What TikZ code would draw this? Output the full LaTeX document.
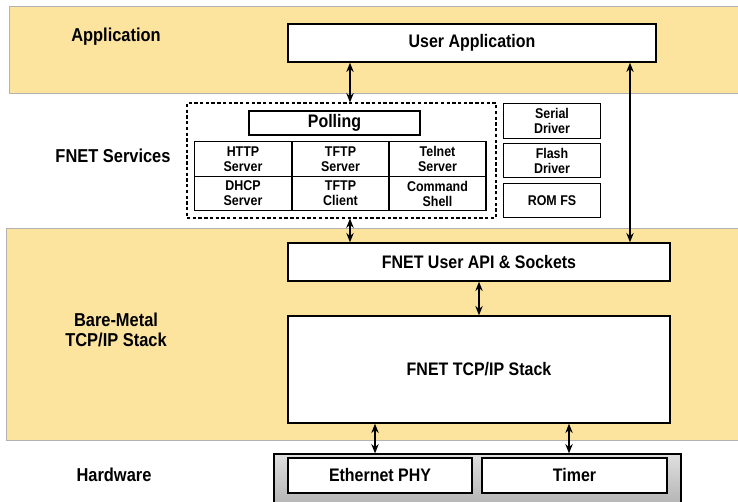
\documentclass[tikz,border=0pt]{standalone}
\usepackage{fontspec}
\setmainfont[FakeStretch=0.88]{Liberation Sans}
\usetikzlibrary{arrows.meta}
\definecolor{bandcol}{RGB}{253,228,158}

\tikzset{
  band/.style={fill=bandcol,draw=gray!60,line width=0.6pt},
  box/.style={draw,fill=white,line width=1pt,inner sep=0pt,align=center,font=\bfseries\fontsize{13.6}{15}\selectfont},
  cell/.style={box,minimum width=97pt*0.75,minimum height=34.5pt*0.75,font=\bfseries\fontsize{10.6}{11.3}\selectfont},
  side/.style={box,minimum width=97.5pt*0.75,minimum height=34.5pt*0.75,font=\bfseries\fontsize{10.6}{11.3}\selectfont},
  layer/.style={font=\bfseries\fontsize{14}{15}\selectfont,align=center},
  dbl/.style={{Stealth[length=7pt,width=5.5pt]}-{Stealth[length=7pt,width=5.5pt]},line width=1.4pt}
}

\begin{document}
\begin{tikzpicture}[x=0.75pt,y=-0.75pt]
    \clip (0,0) rectangle (738,501);
    \fill[white] (0,0) rectangle (738,501);
    % layer bands
    \draw[band] (9,6) rectangle (745,93);
    \draw[band] (6,228) rectangle (745,440);
    \node[layer] (lapp) at (116,37) {Application};
    \node[layer] (lsrv) at (113,156) {FNET Services};
    \node[layer] (lstk) at (116,330) {Bare-Metal\\TCP/IP Stack};
    \node[layer] (lhw) at (114,475) {Hardware};

    % application
    \node[box,minimum width=368pt*0.75,minimum height=38pt*0.75] (userapp) at (472,43) {User Application};

    % services
    \node[draw,dash pattern=on 2.5pt off 1.8pt,line width=0.8pt,minimum width=309pt*0.75,minimum height=115pt*0.75] (services) at (341.5,160.5) {};
    \node[box,minimum width=171pt*0.75,minimum height=24pt*0.75,font=\bfseries\fontsize{13.6}{15}\selectfont] (polling) at (334.5,123) {Polling};
    \node[cell] (http) at (243,159) {HTTP\\Server};
    \node[cell] (tftps) at (340.5,159) {TFTP\\Server};
    \node[cell] (telnet) at (437.5,159) {Telnet\\Server};
    \node[cell] (dhcp) at (243,193.5) {DHCP\\Server};
    \node[cell] (tftpc) at (340.5,193.5) {TFTP\\Client};
    \node[cell] (shell) at (437.5,193.5) {Command\\Shell};
    \node[side] (serial) at (552,121) {Serial\\Driver};
    \node[side] (flash) at (552,160.5) {Flash\\Driver};
    \node[side] (romfs) at (552,200.5) {ROM FS};

    % stack
    \node[box,minimum width=382pt*0.75,minimum height=38pt*0.75] (api) at (479,262) {FNET User API \& Sockets};
    \node[box,minimum width=382pt*0.75,minimum height=107pt*0.75] (stack) at (479,369.5) {FNET TCP/IP Stack};

    % hardware
    \node[draw,line width=0.9pt,top color=gray!25,bottom color=gray!65,minimum width=407pt*0.75,minimum height=60pt*0.75] (hw) at (477.5,484) {};
    \node[box,minimum width=184pt*0.75,minimum height=35pt*0.75] (eth) at (380,475.5) {Ethernet PHY};
    \node[box,minimum width=185pt*0.75,minimum height=35pt*0.75] (timer) at (574.5,475.5) {Timer};

    % connectors
    \coordinate (xa) at (350,0);
    \coordinate (xb) at (630,0);
    \coordinate (xc) at (375,0);
    \coordinate (xd) at (569,0);
    \draw[dbl] (userapp.south -| xa) -- (services.north -| xa);
    \draw[dbl] (services.south -| xa) -- (api.north -| xa);
    \draw[dbl] (userapp.south -| xb) -- (api.north -| xb);
    \draw[dbl] (api) -- (stack);
    \draw[dbl] (stack.south -| xc) -- (hw.north -| xc);
    \draw[dbl] (stack.south -| xd) -- (hw.north -| xd);
\end{tikzpicture}
\end{document}
